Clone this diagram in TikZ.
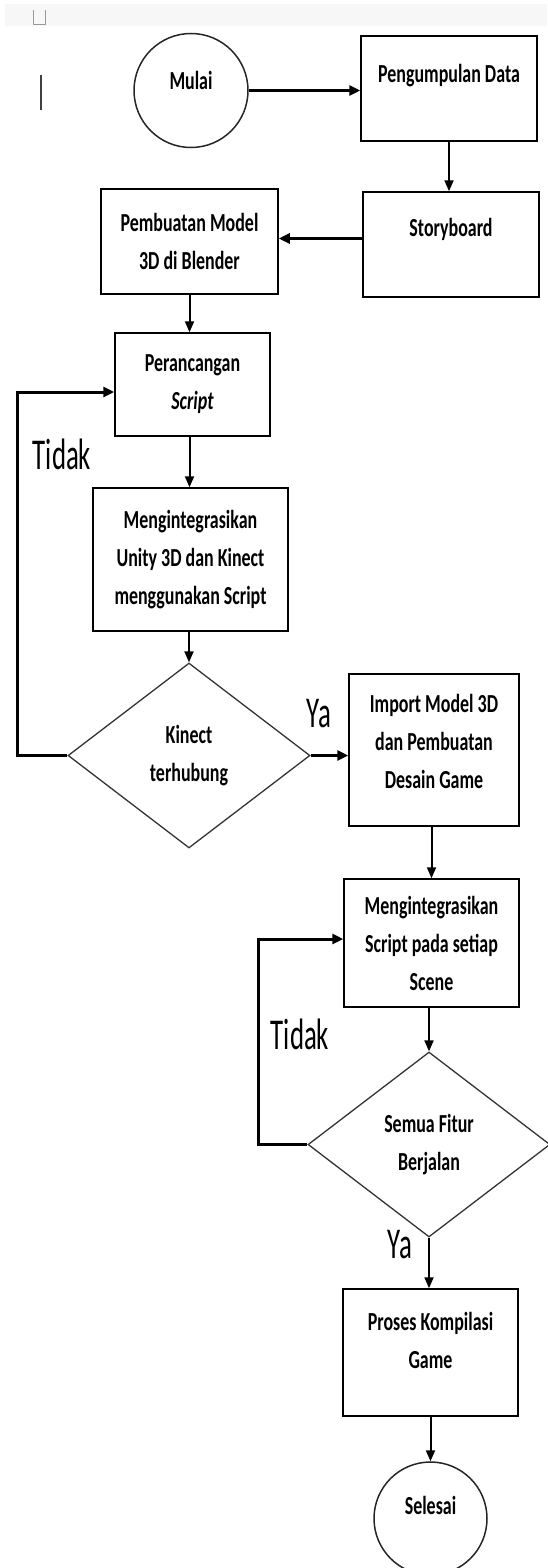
\documentclass[tikz,border=0pt]{standalone}
\usepackage{fontspec}
\newfontfamily\isi{Carlito}[FakeStretch=0.69]
\newfontfamily\tulisan{Carlito}[FakeStretch=0.61]
\usetikzlibrary{shapes.geometric,arrows.meta}
\tikzset{
  kotak/.style={draw,line width=1.5pt,inner sep=0pt,align=center,
    font=\isi\bfseries\fontsize{26}{38}\selectfont},
  bulat/.style={draw=black!85,circle,line width=1.5pt,inner sep=0pt,minimum size=114pt,
    font=\isi\bfseries\fontsize{26}{38}\selectfont},
  belah/.style={draw=black!80,diamond,line width=1.3pt,inner sep=0pt,
    minimum width=242pt,minimum height=185pt,align=center,
    font=\isi\bfseries\fontsize{26}{38}\selectfont},
  panah/.style={line width=2pt,-{Triangle[length=11pt,width=9pt]}},
  panahtebal/.style={line width=3pt,-{Triangle[length=11pt,width=10pt]}},
  ket/.style={inner sep=0pt,font=\tulisan\fontsize{44}{44}\selectfont}
}
\begin{document}
\begin{tikzpicture}[x=1pt,y=-1pt]
\useasboundingbox (0,0) rectangle (547,1568);
\fill[black!3] (5,4) rectangle (547,26);
\draw[black!40,line width=0.8pt] (33,10) -- (33,24) -- (45,24) -- (45,10);
\draw[black!75,line width=1.3pt] (41,75) -- (41,110);

\node[bulat,text depth=21pt] (mulai) at (191,90.5) {Mulai};
\node[kotak,minimum width=176pt,minimum height=105pt,text depth=31pt] (kumpul) at (449,88.5) {Pengumpulan Data};
\node[kotak,minimum width=176pt,minimum height=105pt,text depth=34pt] (story) at (451,244.5) {Storyboard};
\node[kotak,minimum width=177pt,minimum height=105pt] (model) at (189.5,241.5) {Pembuatan Model\\3D di Blender};
\node[kotak,minimum width=155pt,minimum height=103pt] (rancang) at (192.5,384.5) {Perancangan\\\textit{Script}};
\node[kotak,minimum width=195pt,minimum height=143pt] (integrasi) at (190.5,559.5) {Mengintegrasikan\\Unity 3D dan Kinect\\menggunakan Script};
\node[belah] (kinect) at (189,755.5) {Kinect\\terhubung};
\node[kotak,minimum width=170pt,minimum height=152pt,text depth=18pt] (impor) at (434,750) {Import Model 3D\\dan Pembuatan\\Desain Game};
\node[kotak,minimum width=175pt,minimum height=128pt] (skrip) at (431.5,943) {Mengintegrasikan\\Script pada setiap\\Scene};
\node[belah] (fitur) at (429,1144.5) {Semua Fitur\\Berjalan};
\node[kotak,minimum width=175pt,minimum height=127pt,text depth=24pt] (kompilasi) at (430.5,1352.5) {Proses Kompilasi\\Game};
\node[bulat,minimum size=113pt,text depth=26pt] (selesai) at (430.5,1518.5) {Selesai};

\draw[panahtebal] (mulai.east) -- (mulai.east -| kumpul.west);
\draw[panah] (kumpul.south) -- (kumpul.south |- story.north);
\draw[panahtebal] ([yshift=6pt]story.west) -- ([yshift=6pt]story.west -| model.east);
\draw[panah] (model.south) -- (model.south |- rancang.north);
\draw[panah] (model.south |- rancang.south) -- (model.south |- integrasi.north);
\draw[panah] (kinect.north |- integrasi.south) -- (kinect.north);

\coordinate (balik1) at (17,392);
\draw[panahtebal] (kinect.west) -| (balik1) -- (balik1 -| rancang.west);
\node[ket] (tidak1) at (62,454) {Tidak};
\draw[panahtebal] (kinect.east) -- (kinect.east -| impor.west);
\node[ket] (ya1) at (319,714) {Ya};

\draw[panah] (skrip.north |- impor.south) -- (skrip.north);
\draw[panah] (fitur.north |- skrip.south) -- (fitur.north);
\coordinate (balik2) at (258,939);
\draw[panahtebal] (fitur.west) -| (balik2) -- (balik2 -| skrip.west);
\node[ket] (tidak2) at (300,1034) {Tidak};
\draw[panah] (fitur.south) -- (fitur.south |- kompilasi.north);
\node[ket] (ya2) at (400,1245) {Ya};
\draw[panah] (kompilasi.south) -- (kompilasi.south |- selesai.north);
\end{tikzpicture}
\end{document}
